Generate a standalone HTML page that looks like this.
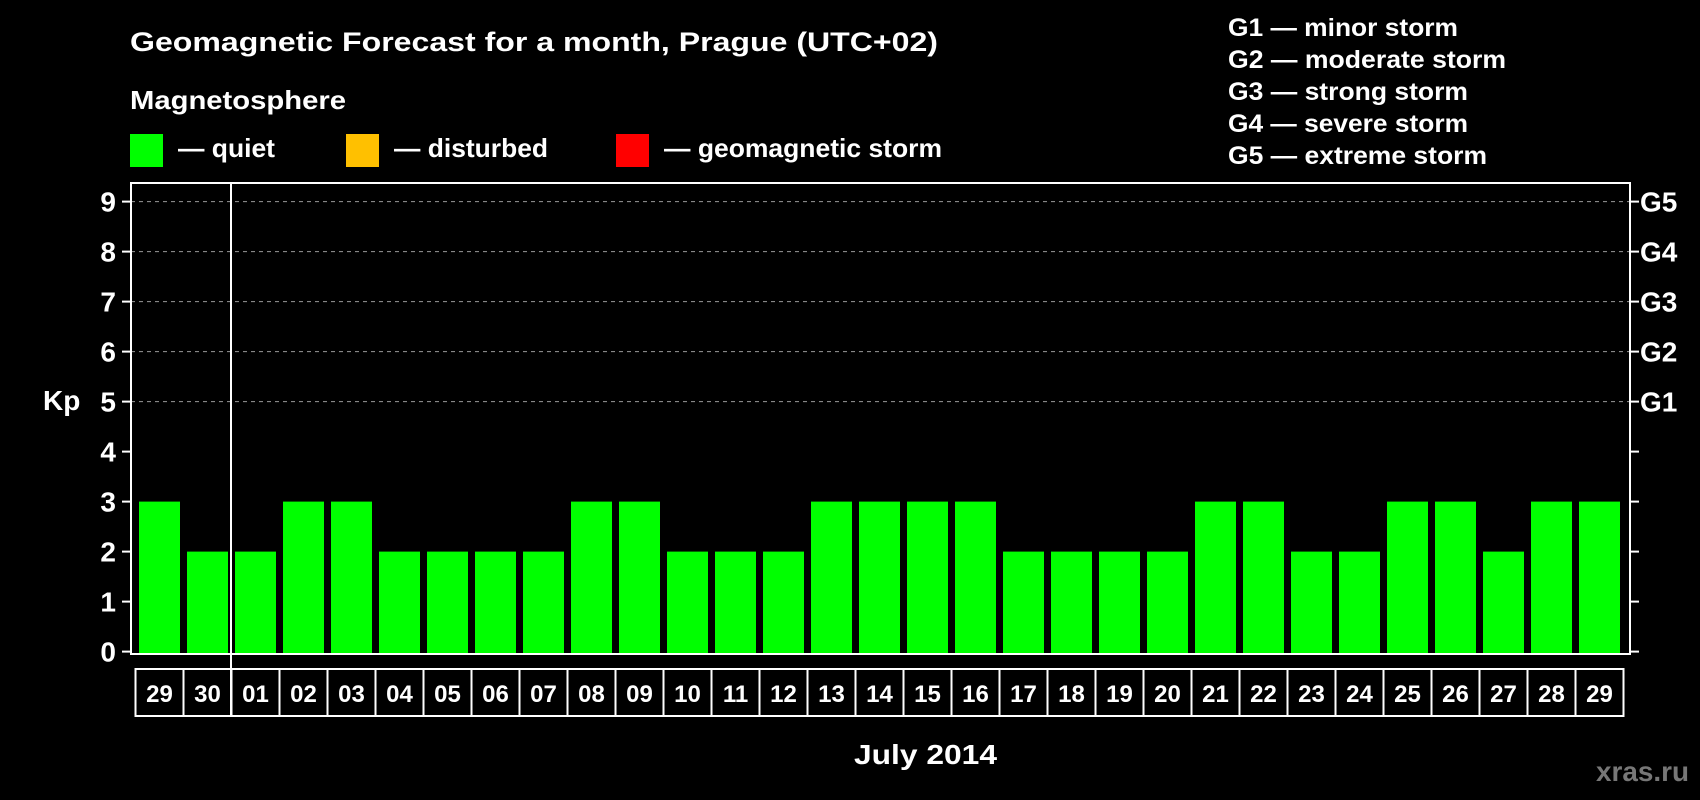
<!DOCTYPE html>
<html><head><meta charset="utf-8"><style>
html,body{margin:0;padding:0;background:#000;}
svg{display:block;font-family:"Liberation Sans",sans-serif;font-weight:bold;}
</style></head><body>
<svg id="chart" width="1700" height="800" viewBox="0 0 1700 800" xmlns="http://www.w3.org/2000/svg">
<rect width="1700" height="800" fill="#000"/>
<text x="130" y="51" fill="#fff" font-size="27" textLength="808" lengthAdjust="spacingAndGlyphs">Geomagnetic Forecast for a month, Prague (UTC+02)</text>
<text x="130" y="109" fill="#fff" font-size="26" textLength="216" lengthAdjust="spacingAndGlyphs">Magnetosphere</text>
<g><rect x="130" y="134" width="33" height="33" fill="#00ff00"/><text x="178" y="157" fill="#fff" font-size="26" textLength="97" lengthAdjust="spacingAndGlyphs">— quiet</text></g>
<g><rect x="346" y="134" width="33" height="33" fill="#ffc000"/><text x="394" y="157" fill="#fff" font-size="26" textLength="154" lengthAdjust="spacingAndGlyphs">— disturbed</text></g>
<g><rect x="616" y="134" width="33" height="33" fill="#ff0000"/><text x="664" y="157" fill="#fff" font-size="26" textLength="278" lengthAdjust="spacingAndGlyphs">— geomagnetic storm</text></g>
<g fill="#fff" font-size="25">
<text x="1228" y="36" textLength="230" lengthAdjust="spacingAndGlyphs">G1 — minor storm</text>
<text x="1228" y="68" textLength="278" lengthAdjust="spacingAndGlyphs">G2 — moderate storm</text>
<text x="1228" y="100" textLength="240" lengthAdjust="spacingAndGlyphs">G3 — strong storm</text>
<text x="1228" y="132" textLength="240" lengthAdjust="spacingAndGlyphs">G4 — severe storm</text>
<text x="1228" y="164" textLength="259" lengthAdjust="spacingAndGlyphs">G5 — extreme storm</text>
</g>
<text x="43" y="410" fill="#fff" font-size="28">Kp</text>
<g id="grid"></g>
<g id="bars"></g>
<rect x="131" y="183" width="1499" height="471" fill="none" stroke="#fff" stroke-width="2"/>
<line x1="231" y1="183" x2="231" y2="716" stroke="#fff" stroke-width="2"/>
<g id="axes"></g>
<g id="days"></g>
<text x="854" y="764" fill="#fff" font-size="28" textLength="143" lengthAdjust="spacingAndGlyphs">July 2014</text>
<text x="1596" y="781" fill="#777" font-size="28" textLength="93" lengthAdjust="spacingAndGlyphs">xras.ru</text>
</svg>
<script>
const days = ["29","30","01","02","03","04","05","06","07","08","09","10","11","12","13","14","15","16","17","18","19","20","21","22","23","24","25","26","27","28","29"];
const kpValues = [3,2,2,3,3,2,2,2,2,3,3,2,2,2,3,3,3,3,2,2,2,2,3,3,2,2,3,3,2,3,3];
const yTicks = [0,1,2,3,4,5,6,7,8,9];
const gLabels = ["G1","G2","G3","G4","G5"];
const gLevels = [5,6,7,8,9];

const NS = "http://www.w3.org/2000/svg";
const y0 = 651.6, unit = 50.0, x0 = 135.5, step = 48, barW = 41, plotBottom = 654;
const yScale = v => y0 - v * unit;
const xScale = i => x0 + i * step;
function mk(tag, attrs, parent){const e=document.createElementNS(NS,tag);for(const k in attrs)e.setAttribute(k,attrs[k]);parent.appendChild(e);return e;}
const grid=document.getElementById('grid'), bars=document.getElementById('bars'), axes=document.getElementById('axes'), dayG=document.getElementById('days');

gLevels.forEach((lv,i)=>{
  const l=mk('line',{x1:131,x2:1630,y1:yScale(lv),y2:yScale(lv),stroke:'#999','stroke-dasharray':'4,4','stroke-width':1},grid);
  
  
  const t=mk('text',{x:1640,y:yScale(lv)+10,fill:'#fff','font-size':28},axes);
  t.textContent=gLabels[i];
  
  
});
yTicks.forEach(v=>{
  const y=yScale(v);
  const tl=mk('line',{x1:122,x2:131,y1:y,y2:y,stroke:'#fff','stroke-width':2},axes);
  
  
  const tr=mk('line',{x1:1630,x2:1639,y1:y,y2:y,stroke:'#fff','stroke-width':2},axes);
  
  
  const t=mk('text',{x:116,y:y+10,fill:'#fff','font-size':28,'text-anchor':'end'},axes);
  t.textContent=v;
  
  
});
kpValues.forEach((v,i)=>{
  const x=xScale(i)+3.5, top=yScale(v);
  const r=mk('rect',{x:x,y:top,width:barW,height:plotBottom-top,fill:v>=5?'#ff0000':(v>=4?'#ffc000':'#00ff00')},bars);
  
  
});
const frame=mk('rect',{x:x0,y:669,width:step*days.length,height:47,fill:'none',stroke:'#fff','stroke-width':2},dayG);


days.forEach((d,i)=>{
  if(i>0){const l=mk('line',{x1:xScale(i),x2:xScale(i),y1:669,y2:716,stroke:'#fff','stroke-width':2},dayG);
    
    }
  const t=mk('text',{x:xScale(i)+step/2,y:702,fill:'#fff','font-size':24,'text-anchor':'middle'},dayG);
  t.textContent=d;
  
  
});
</script>
</body></html>
